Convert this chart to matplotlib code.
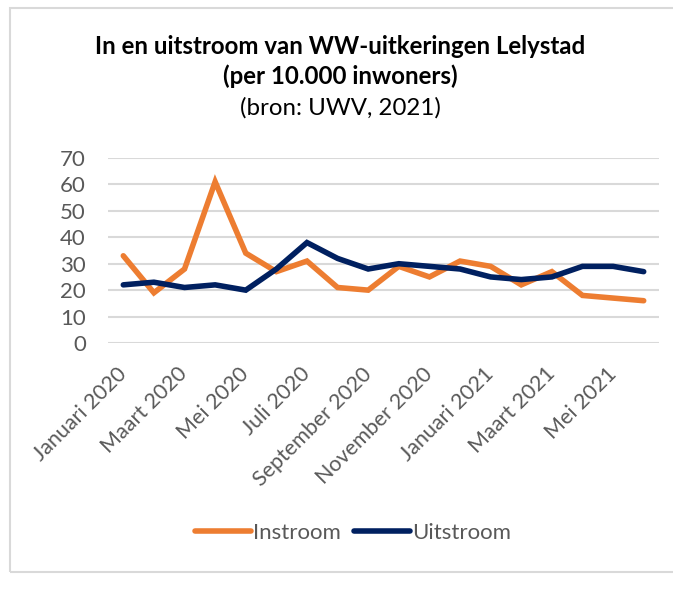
import matplotlib.pyplot as plt
from matplotlib.patches import Rectangle

months = ['Januari 2020', 'Februari 2020', 'Maart 2020', 'April 2020', 'Mei 2020',
          'Juni 2020', 'Juli 2020', 'Augustus 2020', 'September 2020', 'Oktober 2020',
          'November 2020', 'December 2020', 'Januari 2021', 'Februari 2021',
          'Maart 2021', 'April 2021', 'Mei 2021', 'Juni 2021']
instroom = [33, 19, 28, 61, 34, 27, 31, 21, 20, 29, 25, 31, 29, 22, 27, 18, 17, 16]
uitstroom = [22, 23, 21, 22, 20, 28, 38, 32, 28, 30, 29, 28, 25, 24, 25, 29, 29, 27]

plt.rcParams['font.family'] = ['Lato', 'DejaVu Sans']
grey = '#595959'

fig = plt.figure(figsize=(6.73, 6.08), dpi=100)

# chart box border and the cut-off text above it
fig.patches.append(Rectangle((9.5 / 673, 1 - 572 / 608), 1.0, (572 - 8) / 608,
                             transform=fig.transFigure, fill=False,
                             edgecolor='#d9d9d9', linewidth=1.5))
fig.text(10 / 673, 1 + 8 / 608, 'aan de instroom.', fontsize=16, color='black',
         ha='left', va='center')

ax = fig.add_axes([108 / 673, 1 - 343 / 608, (659 - 108) / 673, (343 - 158) / 608])
x = range(len(months))
ax.plot(x, instroom, color='#ED7D31', linewidth=4, solid_capstyle='round',
        solid_joinstyle='miter', label='Instroom')
ax.plot(x, uitstroom, color='#002060', linewidth=4, solid_capstyle='round',
        solid_joinstyle='miter', label='Uitstroom')

ax.set_xlim(-0.5, len(months) - 0.5)
ax.set_ylim(0, 70)
ax.set_yticks(range(0, 71, 10))
ax.grid(axis='y', color='#d9d9d9', linewidth=1.5)
ax.set_axisbelow(True)
for s in ax.spines.values():
    s.set_visible(False)
ax.tick_params(axis='y', length=0, labelsize=16, labelcolor=grey, pad=16)
ax.set_xticks(list(x)[::2])
ax.set_xticklabels(months[::2], rotation=45, ha='right', va='center',
                   rotation_mode='anchor')
ax.tick_params(axis='x', length=0, labelsize=15.5, labelcolor=grey, pad=20)

fig.text(340 / 673, 1 - 46 / 608, 'In en uitstroom van WW-uitkeringen Lelystad',
         ha='center', va='center', fontsize=17.3, fontweight='bold')
fig.text(340 / 673, 1 - 76 / 608, '(per 10.000 inwoners)',
         ha='center', va='center', fontsize=17.3, fontweight='bold')
fig.text(340 / 673, 1 - 108 / 608, '(bron: UWV, 2021)',
         ha='center', va='center', fontsize=17.3)

fig.legend(loc='center', bbox_to_anchor=(353 / 673, 1 - 533 / 608), ncol=2,
           frameon=False, fontsize=16, labelcolor=grey, handlelength=2.5,
           handletextpad=0.1, columnspacing=0.6)

fig.savefig('out.png', dpi=100)
